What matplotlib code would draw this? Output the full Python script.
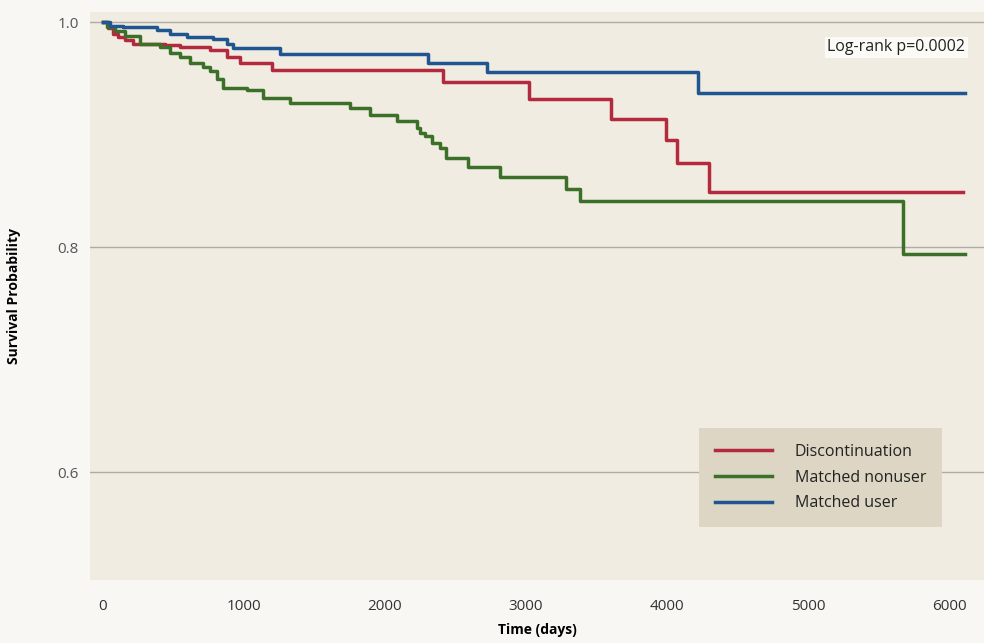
import matplotlib.pyplot as plt

plt.rcParams['font.family'] = ['Open Sans', 'DejaVu Sans']

# Kaplan-Meier step curves (time in days, survival)
disc_t = [0, 35, 71, 106, 156, 213, 440, 546, 759, 879, 972, 1199, 2411, 3021, 3603, 3993, 4071, 4298, 6100]
disc_s = [1.0, 0.995, 0.990, 0.987, 0.984, 0.981, 0.980, 0.978, 0.975, 0.969, 0.964, 0.958, 0.947, 0.932, 0.914, 0.895, 0.875, 0.849, 0.849]

nonuser_t = [0, 28, 85, 156, 262, 404, 475, 546, 617, 709, 759, 809, 851, 1021, 1135, 1326, 1752, 1894,
             2085, 2227, 2248, 2284, 2333, 2390, 2433, 2589, 2816, 3284, 3383, 5674, 6110]
nonuser_s = [1.0, 0.996, 0.992, 0.988, 0.981, 0.978, 0.973, 0.969, 0.964, 0.960, 0.957, 0.950, 0.942, 0.940, 0.933, 0.928, 0.924, 0.918,
             0.912, 0.906, 0.902, 0.899, 0.893, 0.888, 0.879, 0.871, 0.862, 0.852, 0.841, 0.794, 0.794]

user_t = [0, 50, 142, 383, 475, 596, 780, 879, 922, 1255, 2305, 2723, 4220, 6110]
user_s = [1.0, 0.997, 0.996, 0.993, 0.990, 0.987, 0.985, 0.981, 0.977, 0.972, 0.964, 0.956, 0.937, 0.937]

x_ticks = [0, 1000, 2000, 3000, 4000, 5000, 6000]
y_ticks = [0.6, 0.8, 1.0]

fig = plt.figure(figsize=(9.84, 6.43), dpi=100, facecolor='#f8f7f3')
ax = fig.add_axes([0.0915, 0.098, 0.9085, 0.883])
ax.set_facecolor('#f1ece1')

for v in y_ticks:
    ax.axhline(v, color='#aeaca4', linewidth=1.0, zorder=1)

ax.step(disc_t, disc_s, where='post', color='#b32a3e', linewidth=2.5, label='Discontinuation', zorder=3)
ax.step(nonuser_t, nonuser_s, where='post', color='#3c7028', linewidth=2.5, label='Matched nonuser', zorder=3)
ax.step(user_t, user_s, where='post', color='#1f5590', linewidth=2.5, label='Matched user', zorder=4)

ax.set_xlim(-92, 6248)
ax.set_ylim(0.504, 1.009)
ax.set_xticks(x_ticks)
ax.set_yticks(y_ticks)
ax.set_yticklabels(['0.6', '0.8', '1.0'])
ax.tick_params(axis='x', length=0, labelsize=11, labelcolor='#333333', pad=14)
ax.tick_params(axis='y', length=0, labelsize=11, labelcolor='#555555', pad=8)
for s in ax.spines.values():
    s.set_visible(False)

ax.set_xlabel('Time (days)', fontsize=10, fontweight='bold', labelpad=6)
ax.set_ylabel('Survival Probability', fontsize=10, fontweight='bold', labelpad=26)

ax.text(0.979, 0.938, 'Log-rank p=0.0002', transform=ax.transAxes, ha='right', va='center',
        fontsize=11.5, color='#222222',
        bbox=dict(facecolor='#fbfaf7', edgecolor='none', pad=2))

leg = ax.legend(loc='lower right', bbox_to_anchor=(0.953, 0.093), fontsize=11.5, frameon=True,
                fancybox=False, handlelength=3.6, labelspacing=0.6, borderpad=1.0, handletextpad=1.4,
                borderaxespad=0)
leg.get_frame().set_facecolor('#ddd6c4')
leg.get_frame().set_edgecolor('none')
leg.get_frame().set_alpha(1)
for t in leg.get_texts():
    t.set_color('#222222')

plt.savefig('out.png', dpi=100, facecolor=fig.get_facecolor())
